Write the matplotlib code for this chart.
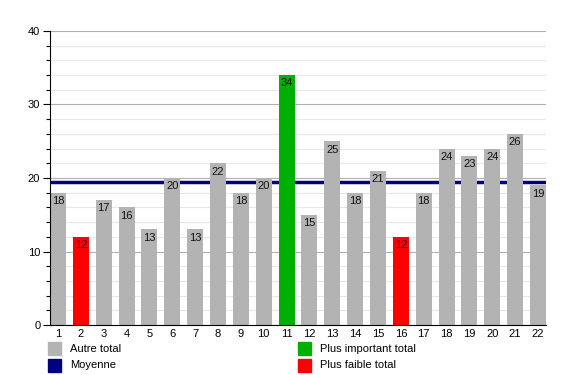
import matplotlib
matplotlib.use("Agg")
import matplotlib.pyplot as plt
from matplotlib.patches import Rectangle
import numpy as np

plt.rcParams['font.family'] = ['Liberation Sans', 'DejaVu Sans']

categories = [str(i) for i in range(1, 23)]
values = [18, 12, 17, 16, 13, 20, 13, 22, 18, 20, 34, 15, 25, 18, 21, 12, 18, 24, 23, 24, 26, 19]
legend_labels = ["Autre total", "Moyenne", "Plus important total", "Plus faible total"]

GRAY = "#b3b3b3"
GREEN = "#00b000"
RED = "#ff0000"
NAVY = "#000080"

vmax = max(values)
vmin = min(values)
colors = [GREEN if v == vmax else (RED if v == vmin else GRAY) for v in values]
mean = float(np.mean(values))

fig = plt.figure(figsize=(5.75, 3.75), dpi=100)
ax = fig.add_axes([50/575, 1-325/375, 496/575, 294/375])

x = np.arange(1, len(values) + 1)
ax.bar(x, values, width=0.7, color=colors, zorder=2)
for xi, v in zip(x, values):
    ax.text(xi, v - 0.45, str(v), ha='center', va='top', fontsize=8, color='#111111', zorder=4)

ax.axhline(mean, color=NAVY, linewidth=2.5, zorder=1.5)

ax.set_xlim(0.65, 22.35)
ax.set_ylim(0, 40)
ax.set_yticks([0, 10, 20, 30, 40])
ax.set_yticks(np.arange(0, 41, 2), minor=True)
ax.set_xticks(x)
ax.set_xticklabels(categories)
ax.grid(axis='y', which='major', color='#b0b0b0', linewidth=0.8, zorder=0)
ax.grid(axis='y', which='minor', color='#e8e8e8', linewidth=0.8, zorder=0)
ax.set_axisbelow(True)
for s in ['top', 'right']:
    ax.spines[s].set_visible(False)
ax.spines['left'].set_linewidth(0.8)
ax.spines['bottom'].set_linewidth(0.8)
ax.tick_params(axis='x', length=0, pad=3, labelsize=8)
ax.tick_params(axis='y', which='major', length=5, width=0.8, labelsize=8, pad=2)
ax.tick_params(axis='y', which='minor', length=3, width=0.8)

# legend
W, H = 575, 375
items = [(48, 342, GRAY, legend_labels[0]), (48, 359, NAVY, legend_labels[1]),
         (298, 342, GREEN, legend_labels[2]), (298, 359, RED, legend_labels[3])]
for px, py, c, lab in items:
    fig.patches.append(Rectangle((px / W, 1 - (py + 13) / H), 13 / W, 13 / H,
                                 transform=fig.transFigure, color=c))
    fig.text((px + 22) / W, 1 - (py + 6.5) / H, lab, ha='left', va='center', fontsize=8)

fig.savefig("out.png", dpi=100)
